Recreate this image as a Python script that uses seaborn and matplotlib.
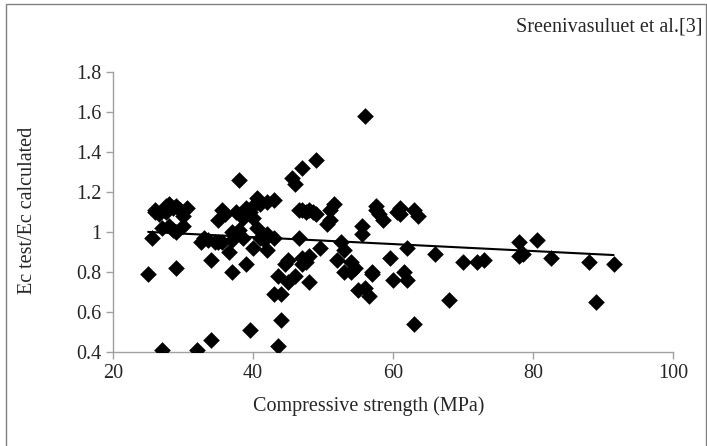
import numpy as np
import pandas as pd
import seaborn as sns
import matplotlib.pyplot as plt
from matplotlib.patches import Rectangle

# compressive strength (MPa) and Ec test / Ec calculated
strength = [25, 25.5, 26, 26, 26.5, 27, 27, 27.5, 27.5, 28, 28, 28.5, 28.5, 29, 29, 29,
            29.5, 30, 30, 30.5,
            32, 32.5, 33, 33.5, 34, 34, 34.5, 35, 35, 35.5, 35.5, 36, 36.5, 37, 37, 37,
            37.5, 38, 38, 38.5, 38.5, 39, 39, 39.5, 39.5, 40, 40, 40.5, 40.5, 40, 41, 41,
            41.5, 42, 42, 42, 43, 43, 43, 43.5, 43.5, 44, 44, 44.5, 45, 45, 45.5, 46, 46,
            46.5, 46.5, 47, 47, 47, 47, 47.5, 47.5, 48, 48, 48, 48.5, 49, 49, 49.5,
            50.5, 51, 51, 51.5, 52, 52.5, 53, 53, 54, 54, 54.5, 55, 55.5, 55.5, 56, 56,
            56.5, 57, 57, 57.5, 57.5, 58, 58.5, 59.5, 60, 60.5, 61, 61, 61.5, 62, 62,
            63, 63, 63.5, 66, 68, 70, 72, 73, 78, 78, 78.5, 80.5, 82.5, 88, 89, 91.5]
ratio = [0.79, 0.97, 1.10, 1.11, 1.09, 1.02, 0.41, 1.13, 1.10, 1.14, 1.03, 1.12, 1.01, 1.13, 1.00, 0.82,
         1.11, 1.08, 1.03, 1.12,
         0.41, 0.95, 0.97, 0.96, 0.46, 0.86, 0.95, 1.06, 0.95, 1.11, 0.95, 1.09, 0.90, 0.80, 1.00, 0.96,
         1.10, 1.26, 1.01, 1.07, 0.97, 1.12, 0.84, 0.51, 1.10, 1.13, 1.07, 1.17, 1.02, 0.92, 0.97, 1.14,
         0.96, 1.15, 0.99, 0.91, 1.16, 0.97, 0.69, 0.78, 0.43, 0.56, 0.69, 0.84, 0.86, 0.75, 1.27, 1.24, 0.78,
         1.11, 0.97, 1.32, 1.11, 0.87, 0.84, 1.10, 0.85, 1.11, 0.75, 0.88, 1.10, 1.09, 1.36, 0.92,
         1.04, 1.06, 1.11, 1.14, 0.86, 0.95, 0.80, 0.91, 0.85, 0.80, 0.82, 0.71, 0.99, 1.03, 1.58, 0.72,
         0.68, 0.79, 0.80, 1.11, 1.13, 1.09, 1.06, 0.87, 0.76, 1.10, 1.12, 1.09, 0.80, 0.76, 0.92,
         0.54, 1.11, 1.08, 0.89, 0.66, 0.85, 0.85, 0.86, 0.95, 0.88, 0.89, 0.96, 0.87, 0.85, 0.65, 0.84]

# linear trendline
trend_slope = -0.00174
trend_intercept = 1.0433

df = pd.DataFrame({'strength': strength, 'ratio': ratio})

sns.set_style('white')
plt.rcParams['font.family'] = ['Liberation Serif', 'DejaVu Serif']

fig = plt.figure(figsize=(7.07, 4.46), dpi=100)
ax = fig.add_axes([0.160, 0.211, 0.792, 0.628])

sns.scatterplot(data=df, x='strength', y='ratio', marker='D', color='black',
                s=72, edgecolor='black', linewidth=0, ax=ax, zorder=3)

xs = np.array([df['strength'].min(), df['strength'].max()])
ax.plot(xs, trend_intercept + trend_slope * xs, color='black', linewidth=1.5, zorder=2)

ax.set_xlim(20, 100)
ax.set_ylim(0.4, 1.8)
ax.set_xticks([20, 40, 60, 80, 100])
ax.set_yticks([0.4, 0.6, 0.8, 1.0, 1.2, 1.4, 1.6, 1.8])
ax.set_yticklabels(['0.4', '0.6', '0.8', '1', '1.2', '1.4', '1.6', '1.8'])
ax.tick_params(axis='both', labelsize=14.5, direction='out', length=5,
               color='#a0a0a0', width=1, left=True, bottom=True)
for side in ['top', 'right']:
    ax.spines[side].set_visible(False)
for side in ['left', 'bottom']:
    ax.spines[side].set_color('#a0a0a0')
    ax.spines[side].set_linewidth(1)

ax.set_xlabel('Compressive strength (MPa)', fontsize=14.5)
ax.set_ylabel('Ec test/Ec calculated', fontsize=14.5)
ax.xaxis.set_label_coords(0.457, -0.158)
ax.yaxis.set_label_coords(-0.136, 0.507)

fig.text(0.994, 0.96, 'Sreenivasuluet et al.[3]', ha='right', va='top', fontsize=14.5)

fig.patches.append(Rectangle((6 / 707, -0.01), 700 / 707, 1 - 4 / 446 + 0.01,
                             transform=fig.transFigure, fill=False,
                             edgecolor='#808080', linewidth=1))

fig.savefig('out.png', dpi=100)
